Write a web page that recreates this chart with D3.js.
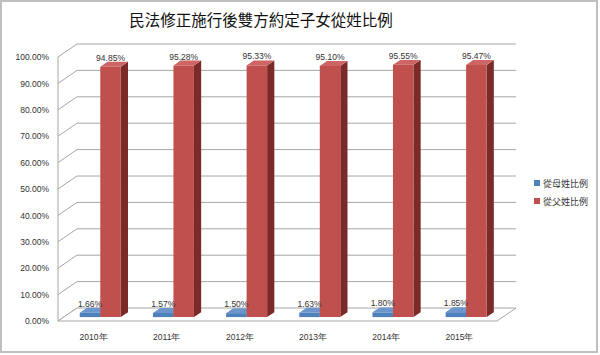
<!DOCTYPE html>
<html><head><meta charset="utf-8">
<script src="https://cdn.jsdelivr.net/npm/d3@7"></script>
<style>body{margin:0;background:#fff}</style>
</head><body>
<script>
const title = "民法修正施行後雙方約定子女從姓比例";
const years = ["2010年","2011年","2012年","2013年","2014年","2015年"];
const seriesNames = ["從母姓比例","從父姓比例"];
const motherPct = [1.66,1.57,1.50,1.63,1.80,1.85];
const fatherPct = [94.85,95.28,95.33,95.10,95.55,95.47];
const yTicks = [0,10,20,30,40,50,60,70,80,90,100];

const W=600,H=355;
const svg=d3.select("body").append("svg").attr("width",W).attr("height",H);
const numFont="'Liberation Sans', Arial, sans-serif";
const cjkFont="'Noto Sans CJK TC', sans-serif";

svg.append("rect").attr("x",1).attr("y",1).attr("width",596).attr("height",351)
  .attr("fill","#fff").attr("stroke","#bfbfbf").attr("stroke-width",2);

svg.append("text").attr("x",261).attr("y",26).attr("text-anchor","middle")
  .attr("font-family",cjkFont).attr("font-size",15.5).attr("fill","#111").text(title);

const DX=19, DY=-13;
const y=d3.scaleLinear().domain([0,100]).range([321,57]);
const x=d3.scaleBand().domain(years).range([58,497]);
const proj=(px,v,f)=>[px+f*DX, y(v)+f*DY];
const grid="#a6a6a6";

// back wall gridlines + left wall diagonals
yTicks.forEach(t=>{
  const yb=y(t)+DY;
  if(t>0){
    svg.append("line").attr("x1",58+DX).attr("x2",497+DX).attr("y1",yb).attr("y2",yb)
      .attr("stroke",grid).attr("stroke-width",1);
  }
  svg.append("line").attr("x1",58).attr("y1",y(t)).attr("x2",58+DX).attr("y2",yb)
    .attr("stroke",grid).attr("stroke-width",1);
});
// floor
const fl=[proj(58,0,0),proj(497,0,0),proj(497,0,1),proj(58,0,1)];
svg.append("polygon").attr("points",fl.map(p=>p.join(",")).join(" "))
  .attr("fill","#fff").attr("stroke",grid).attr("stroke-width",1);
// axis line
svg.append("line").attr("x1",58).attr("x2",58).attr("y1",y(100)).attr("y2",y(0))
  .attr("stroke",grid).attr("stroke-width",1);

// y tick labels
const yAxis=d3.axisLeft(y).tickValues(yTicks).tickSize(0).tickPadding(9)
  .tickFormat(d=>d.toFixed(2)+"%");
const ga=svg.append("g").attr("transform","translate(58,0)").call(yAxis);
ga.select(".domain").remove();
ga.selectAll("text").attr("font-family",numFont).attr("font-size",8.5).attr("fill","#333");

// x labels
svg.append("g").selectAll("text").data(years).join("text")
  .attr("x",d=>x(d)+x.bandwidth()/2-1).attr("y",340).attr("text-anchor","middle")
  .attr("font-family",numFont).attr("font-size",8.5).attr("fill","#333").text(d=>d);

const f0=0.3,f1=0.68,bw=20.5;
const colors=[{front:"#4f81bd",top:"#6d97cc",side:"#2f5a8c"},{front:"#c0504d",top:"#cc6563",side:"#7a2b29"}];
const series=[motherPct,fatherPct];
const pts=a=>a.map(p=>p.join(",")).join(" ");
years.forEach((yr,i)=>{
  const cx=x(yr)+x.bandwidth()/2;
  series.forEach((vals,s)=>{
    const v=vals[i];
    const x0=s===0?cx-bw:cx, x1=x0+bw;
    const c=colors[s];
    const g=svg.append("g");
    g.append("polygon").attr("points",pts([proj(x1,0,f0),proj(x1,0,f1),proj(x1,v,f1),proj(x1,v,f0)])).attr("fill",c.side);
    g.append("polygon").attr("points",pts([proj(x0,v,f0),proj(x1,v,f0),proj(x1,v,f1),proj(x0,v,f1)])).attr("fill",c.top);
    g.append("polygon").attr("points",pts([proj(x0,0,f0),proj(x1,0,f0),proj(x1,v,f0),proj(x0,v,f0)])).attr("fill",c.front);
  });
});
// data labels
years.forEach((yr,i)=>{
  const cx=x(yr)+x.bandwidth()/2;
  series.forEach((vals,s)=>{
    const v=vals[i];
    const x0=s===0?cx-bw:cx;
    const p=proj(x0+bw/2,v,f0);
    svg.append("text").attr("x",p[0]).attr("y",p[1]-6).attr("text-anchor","middle")
      .attr("font-family",numFont).attr("font-size",8.5).attr("fill","#333").text(v.toFixed(2)+"%");
  });
});
// legend
seriesNames.forEach((n,s)=>{
  svg.append("rect").attr("x",534).attr("y",180+s*18).attr("width",6).attr("height",6).attr("fill",colors[s].front);
  svg.append("text").attr("x",543).attr("y",187+s*18).attr("font-family",cjkFont)
    .attr("font-size",9).attr("fill","#333").text(n);
});
</script>
</body></html>
